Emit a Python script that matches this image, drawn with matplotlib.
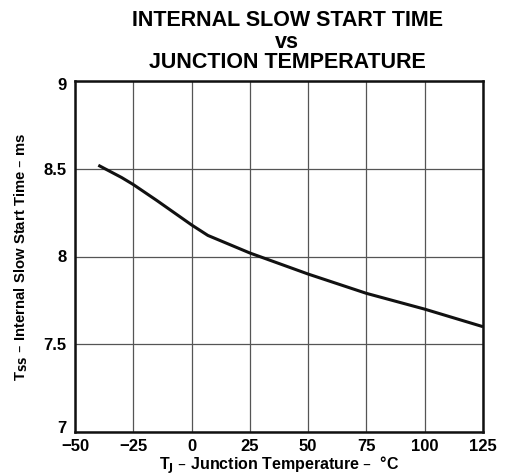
import matplotlib
matplotlib.use("Agg")
import matplotlib.pyplot as plt
import matplotlib.transforms as mtransforms

temps = [-40, -30, -25, -15, 0, 7, 25, 50, 75, 100, 125]
tss = [8.52, 8.45, 8.41, 8.32, 8.18, 8.12, 8.02, 7.90, 7.79, 7.70, 7.60]
xticks = [-50, -25, 0, 25, 50, 75, 100, 125]
xtick_labels = ["\u221250", "\u221225", "0", "25", "50", "75", "100", "125"]
yticks = [7, 7.5, 8, 8.5, 9]
ytick_labels = ["7", "7.5", "8", "8.5", "9"]

plt.rcParams['font.family'] = ['Liberation Sans', 'DejaVu Sans']
plt.rcParams['font.weight'] = 'bold'

fig = plt.figure(figsize=(5.07, 4.75), dpi=100)
ax = fig.add_axes([75/507, 1-432/475, 408/507, 351/475])
ax.plot(temps, tss, color='#111111', lw=2.2, solid_capstyle='butt')
ax.set_xlim(-50, 125)
ax.set_ylim(7, 9)
ax.set_xticks(xticks)
ax.set_xticklabels(xtick_labels, fontsize=12, fontweight='bold')
ax.set_yticks(yticks)
ax.set_yticklabels(ytick_labels, fontsize=12, fontweight='bold')
ax.tick_params(axis='x', length=0, pad=5)
ax.tick_params(axis='y', length=0, pad=6)
# nudge bottom/top y labels inward like the reference
ylabs = ax.get_yticklabels()
ylabs[0].set_transform(ylabs[0].get_transform() + mtransforms.ScaledTranslation(0, 5/100, fig.dpi_scale_trans))
ylabs[-1].set_transform(ylabs[-1].get_transform() + mtransforms.ScaledTranslation(0, -3/100, fig.dpi_scale_trans))
ax.grid(True, color='#555555', lw=0.9)
for s in ax.spines.values():
    s.set_linewidth(1.8)
    s.set_color('#111111')
ax.set_xlabel("T$_\\mathbf{J}$ \u2013 Junction Temperature \u2013  \u00b0C",
              fontsize=11.5, fontweight='bold', labelpad=0)
ax.set_ylabel("T$_\\mathbf{SS}$ \u2013 Internal Slow Start Time \u2013 ms", fontsize=10.7, fontweight='bold', labelpad=10)
fig.text(287/507, 1-20/475, "INTERNAL SLOW START TIME", ha='center', va='center', fontsize=15.5, fontweight='bold')
fig.text(287/507, 1-42/475, "vs", ha='center', va='center', fontsize=15.5, fontweight='bold')
fig.text(287/507, 1-62/475, "JUNCTION TEMPERATURE", ha='center', va='center', fontsize=15.5, fontweight='bold')
fig.savefig("out.png", dpi=100)
